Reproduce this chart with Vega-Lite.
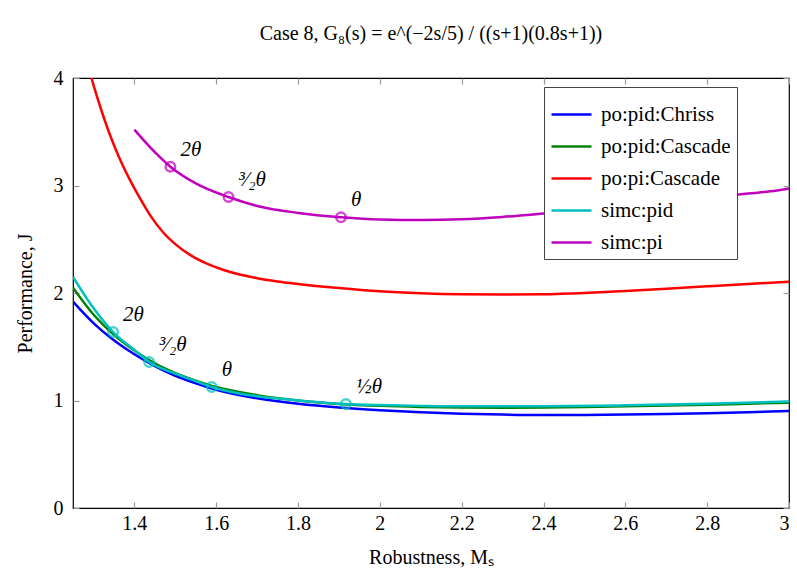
{
  "$schema": "https://vega.github.io/schema/vega-lite/v6.json",
  "width": 716,
  "height": 430,
  "autosize": {"type": "none"},
  "padding": {"left": 73, "top": 78, "right": 8, "bottom": 70},
  "background": "white",
  "config": {
    "font": "Liberation Serif",
    "view": {"stroke": "black", "strokeWidth": 1.2},
    "axis": {
      "labelFont": "Times New Roman", "labelFontSize": 20, "labelColor": "black",
      "titleFont": "Liberation Serif", "titleFontSize": 20, "titleFontWeight": "normal", "titleColor": "black",
      "grid": false, "domain": false, "tickColor": "#999", "tickSize": -6, "tickWidth": 1.2
    },
    "legend": {
      "orient": "none", "legendX": 471, "legendY": 9,
      "strokeColor": "#444", "fillColor": "white", "padding": 6,
      "labelFont": "serif", "labelFontSize": 21, "labelColor": "black",
      "symbolType": "stroke", "symbolSize": 1600, "symbolStrokeWidth": 2.5,
      "labelOffset": 8, "rowPadding": -10, "cornerRadius": 0
    }
  },
  "title": {"text": "Case 8, G₈(s) = e^(−2s/5) / ((s+1)(0.8s+1))", "font": "Liberation Serif", "fontSize": 20, "fontWeight": "normal", "offset": 24, "anchor": "middle", "color": "black"},
  "datasets": {
    "curves": [
      {"s": "po:pid:Chriss", "x": 1.25, "y": 1.92},
      {"s": "po:pid:Chriss", "x": 1.30, "y": 1.72},
      {"s": "po:pid:Chriss", "x": 1.35, "y": 1.56},
      {"s": "po:pid:Chriss", "x": 1.40, "y": 1.43},
      {"s": "po:pid:Chriss", "x": 1.45, "y": 1.32},
      {"s": "po:pid:Chriss", "x": 1.50, "y": 1.23},
      {"s": "po:pid:Chriss", "x": 1.55, "y": 1.16},
      {"s": "po:pid:Chriss", "x": 1.60, "y": 1.10},
      {"s": "po:pid:Chriss", "x": 1.70, "y": 1.02},
      {"s": "po:pid:Chriss", "x": 1.80, "y": 0.97},
      {"s": "po:pid:Chriss", "x": 1.90, "y": 0.935},
      {"s": "po:pid:Chriss", "x": 2.00, "y": 0.91},
      {"s": "po:pid:Chriss", "x": 2.10, "y": 0.89},
      {"s": "po:pid:Chriss", "x": 2.20, "y": 0.877},
      {"s": "po:pid:Chriss", "x": 2.30, "y": 0.869},
      {"s": "po:pid:Chriss", "x": 2.40, "y": 0.865},
      {"s": "po:pid:Chriss", "x": 2.50, "y": 0.866},
      {"s": "po:pid:Chriss", "x": 2.60, "y": 0.869},
      {"s": "po:pid:Chriss", "x": 2.70, "y": 0.874},
      {"s": "po:pid:Chriss", "x": 2.80, "y": 0.881},
      {"s": "po:pid:Chriss", "x": 2.90, "y": 0.891},
      {"s": "po:pid:Chriss", "x": 3.00, "y": 0.902},
      {"s": "po:pid:Cascade", "x": 1.25, "y": 2.05},
      {"s": "po:pid:Cascade", "x": 1.30, "y": 1.80},
      {"s": "po:pid:Cascade", "x": 1.35, "y": 1.61},
      {"s": "po:pid:Cascade", "x": 1.40, "y": 1.465},
      {"s": "po:pid:Cascade", "x": 1.45, "y": 1.345},
      {"s": "po:pid:Cascade", "x": 1.50, "y": 1.255},
      {"s": "po:pid:Cascade", "x": 1.55, "y": 1.185},
      {"s": "po:pid:Cascade", "x": 1.60, "y": 1.125},
      {"s": "po:pid:Cascade", "x": 1.70, "y": 1.05},
      {"s": "po:pid:Cascade", "x": 1.80, "y": 1.00},
      {"s": "po:pid:Cascade", "x": 1.90, "y": 0.968},
      {"s": "po:pid:Cascade", "x": 2.00, "y": 0.95},
      {"s": "po:pid:Cascade", "x": 2.10, "y": 0.94},
      {"s": "po:pid:Cascade", "x": 2.20, "y": 0.935},
      {"s": "po:pid:Cascade", "x": 2.30, "y": 0.933},
      {"s": "po:pid:Cascade", "x": 2.40, "y": 0.935},
      {"s": "po:pid:Cascade", "x": 2.50, "y": 0.94},
      {"s": "po:pid:Cascade", "x": 2.60, "y": 0.946},
      {"s": "po:pid:Cascade", "x": 2.70, "y": 0.953},
      {"s": "po:pid:Cascade", "x": 2.80, "y": 0.961},
      {"s": "po:pid:Cascade", "x": 2.90, "y": 0.97},
      {"s": "po:pid:Cascade", "x": 3.00, "y": 0.98},
      {"s": "po:pi:Cascade", "x": 1.295, "y": 4.0},
      {"s": "po:pi:Cascade", "x": 1.31, "y": 3.81},
      {"s": "po:pi:Cascade", "x": 1.325, "y": 3.635},
      {"s": "po:pi:Cascade", "x": 1.34, "y": 3.475},
      {"s": "po:pi:Cascade", "x": 1.355, "y": 3.33},
      {"s": "po:pi:Cascade", "x": 1.37, "y": 3.20},
      {"s": "po:pi:Cascade", "x": 1.39, "y": 3.045},
      {"s": "po:pi:Cascade", "x": 1.41, "y": 2.905},
      {"s": "po:pi:Cascade", "x": 1.44, "y": 2.715},
      {"s": "po:pi:Cascade", "x": 1.47, "y": 2.565},
      {"s": "po:pi:Cascade", "x": 1.50, "y": 2.455},
      {"s": "po:pi:Cascade", "x": 1.54, "y": 2.345},
      {"s": "po:pi:Cascade", "x": 1.58, "y": 2.268},
      {"s": "po:pi:Cascade", "x": 1.62, "y": 2.212},
      {"s": "po:pi:Cascade", "x": 1.66, "y": 2.17},
      {"s": "po:pi:Cascade", "x": 1.70, "y": 2.138},
      {"s": "po:pi:Cascade", "x": 1.75, "y": 2.108},
      {"s": "po:pi:Cascade", "x": 1.80, "y": 2.084},
      {"s": "po:pi:Cascade", "x": 1.90, "y": 2.046},
      {"s": "po:pi:Cascade", "x": 2.00, "y": 2.016},
      {"s": "po:pi:Cascade", "x": 2.10, "y": 1.998},
      {"s": "po:pi:Cascade", "x": 2.20, "y": 1.988},
      {"s": "po:pi:Cascade", "x": 2.30, "y": 1.985},
      {"s": "po:pi:Cascade", "x": 2.40, "y": 1.988},
      {"s": "po:pi:Cascade", "x": 2.50, "y": 2.0},
      {"s": "po:pi:Cascade", "x": 2.60, "y": 2.018},
      {"s": "po:pi:Cascade", "x": 2.70, "y": 2.04},
      {"s": "po:pi:Cascade", "x": 2.80, "y": 2.062},
      {"s": "po:pi:Cascade", "x": 2.90, "y": 2.084},
      {"s": "po:pi:Cascade", "x": 3.00, "y": 2.105},
      {"s": "simc:pid", "x": 1.25, "y": 2.15},
      {"s": "simc:pid", "x": 1.30, "y": 1.86},
      {"s": "simc:pid", "x": 1.348, "y": 1.637},
      {"s": "simc:pid", "x": 1.40, "y": 1.47},
      {"s": "simc:pid", "x": 1.436, "y": 1.358},
      {"s": "simc:pid", "x": 1.50, "y": 1.25},
      {"s": "simc:pid", "x": 1.55, "y": 1.18},
      {"s": "simc:pid", "x": 1.589, "y": 1.126},
      {"s": "simc:pid", "x": 1.65, "y": 1.07},
      {"s": "simc:pid", "x": 1.70, "y": 1.04},
      {"s": "simc:pid", "x": 1.80, "y": 1.00},
      {"s": "simc:pid", "x": 1.917, "y": 0.967},
      {"s": "simc:pid", "x": 2.00, "y": 0.957},
      {"s": "simc:pid", "x": 2.10, "y": 0.95},
      {"s": "simc:pid", "x": 2.20, "y": 0.946},
      {"s": "simc:pid", "x": 2.40, "y": 0.947},
      {"s": "simc:pid", "x": 2.60, "y": 0.955},
      {"s": "simc:pid", "x": 2.80, "y": 0.97},
      {"s": "simc:pid", "x": 3.00, "y": 0.99},
      {"s": "simc:pi", "x": 1.40, "y": 3.52},
      {"s": "simc:pi", "x": 1.45, "y": 3.31},
      {"s": "simc:pi", "x": 1.488, "y": 3.175},
      {"s": "simc:pi", "x": 1.55, "y": 3.02},
      {"s": "simc:pi", "x": 1.63, "y": 2.893},
      {"s": "simc:pi", "x": 1.70, "y": 2.81},
      {"s": "simc:pi", "x": 1.80, "y": 2.745},
      {"s": "simc:pi", "x": 1.905, "y": 2.705},
      {"s": "simc:pi", "x": 2.00, "y": 2.684},
      {"s": "simc:pi", "x": 2.10, "y": 2.679},
      {"s": "simc:pi", "x": 2.20, "y": 2.686},
      {"s": "simc:pi", "x": 2.30, "y": 2.708},
      {"s": "simc:pi", "x": 2.40, "y": 2.74},
      {"s": "simc:pi", "x": 2.50, "y": 2.775},
      {"s": "simc:pi", "x": 2.60, "y": 2.81},
      {"s": "simc:pi", "x": 2.70, "y": 2.85},
      {"s": "simc:pi", "x": 2.80, "y": 2.885},
      {"s": "simc:pi", "x": 2.90, "y": 2.925},
      {"s": "simc:pi", "x": 2.97, "y": 2.953},
      {"s": "simc:pi", "x": 3.00, "y": 2.972}
    ],
    "marks": [
      {"s": "simc:pid", "x": 1.348, "y": 1.637, "lab": "2θ"},
      {"s": "simc:pid", "x": 1.436, "y": 1.358, "lab": "³⁄₂θ"},
      {"s": "simc:pid", "x": 1.589, "y": 1.126, "lab": "θ"},
      {"s": "simc:pid", "x": 1.917, "y": 0.967, "lab": "½θ"},
      {"s": "simc:pi", "x": 1.488, "y": 3.175, "lab": "2θ"},
      {"s": "simc:pi", "x": 1.63, "y": 2.893, "lab": "³⁄₂θ"},
      {"s": "simc:pi", "x": 1.905, "y": 2.705, "lab": "θ"}
    ]
  },
  "layer": [
    {
      "data": {"name": "curves"},
      "mark": {"type": "line", "strokeWidth": 2.5, "interpolate": "monotone", "clip": true},
      "encoding": {
        "x": {"field": "x", "type": "quantitative", "scale": {"domain": [1.25, 3], "nice": false, "zero": false},
              "axis": {"values": [1.4, 1.6, 1.8, 2, 2.2, 2.4, 2.6, 2.8, 3], "format": "~g", "title": "Robustness, Mₛ", "labelPadding": 11, "titlePadding": 14}},
        "y": {"field": "y", "type": "quantitative", "scale": {"domain": [0, 4], "nice": false},
              "axis": {"values": [0, 1, 2, 3, 4], "format": "d", "title": "Performance, J", "labelPadding": 16, "titlePadding": 18}},
        "color": {"field": "s", "type": "nominal",
                  "scale": {"domain": ["po:pid:Chriss", "po:pid:Cascade", "po:pi:Cascade", "simc:pid", "simc:pi"],
                            "range": ["#0000ff", "#008000", "#ff0000", "#00bfbf", "#bf00bf"]},
                  "legend": {"title": null}}
      }
    },
    {
      "data": {"name": "marks"},
      "mark": {"type": "point", "filled": false, "strokeWidth": 2.5, "size": 90},
      "encoding": {
        "x": {"field": "x", "type": "quantitative", "axis": null},
        "y": {"field": "y", "type": "quantitative", "axis": null},
        "stroke": {"field": "s", "type": "nominal", "scale": {"domain": ["simc:pid", "simc:pi"], "range": ["#00bfbf", "#bf00bf"]}, "legend": null}
      }
    },
    {
      "data": {"name": "marks"},
      "mark": {"type": "text", "align": "left", "baseline": "alphabetic", "dx": 10, "dy": -11, "fontSize": 21, "font": "Liberation Serif", "fontStyle": "italic", "color": "black"},
      "encoding": {
        "x": {"field": "x", "type": "quantitative", "axis": null},
        "y": {"field": "y", "type": "quantitative", "axis": null},
        "text": {"field": "lab"}
      }
    },
    {
      "data": {"name": "marks"},
      "mark": {"type": "point", "opacity": 0},
      "encoding": {
        "x": {"field": "x", "type": "quantitative", "axis": {"orient": "top", "values": [1.4, 1.6, 1.8, 2, 2.2, 2.4, 2.6, 2.8, 3], "labels": false, "title": null}},
        "y": {"field": "y", "type": "quantitative", "axis": {"orient": "right", "values": [0, 1, 2, 3, 4], "labels": false, "title": null}}
      }
    }
  ],
  "resolve": {"axis": {"x": "independent", "y": "independent"}}
}
